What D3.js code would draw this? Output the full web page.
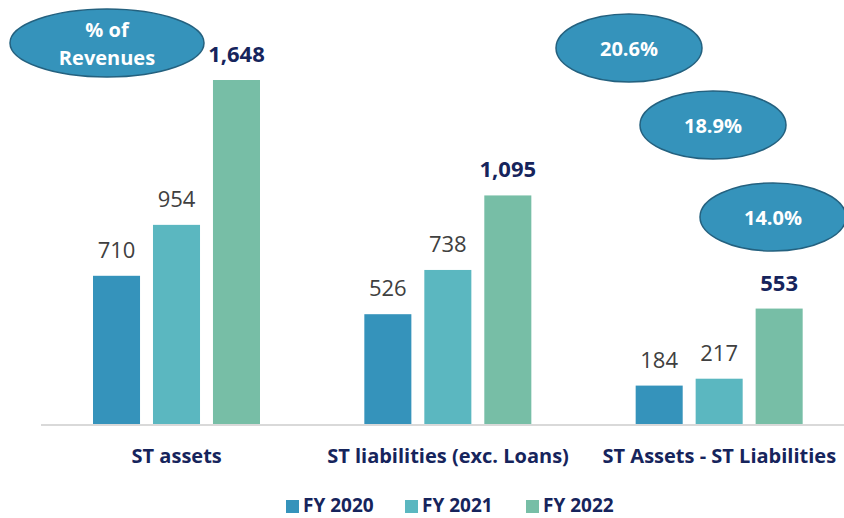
<!DOCTYPE html>
<html lang="en">
  <head>
    <meta charset="utf-8" />
    <script type="text/javascript" src="https://d3js.org/d3.v7.min.js"></script>
    <style>
      body { margin: 0; background: #fff; }
    </style>
  </head>

  <body>
    <script type="text/javascript">
      let w = 844;
      let h = 518;

      let categories = ["ST assets", "ST liabilities (exc. Loans)", "ST Assets - ST Liabilities"];
      let seriesNames = ["FY 2020", "FY 2021", "FY 2022"];
      let fy2020 = [710, 526, 184];
      let fy2021 = [954, 738, 217];
      let fy2022 = [1648, 1095, 553];
      let revenueShares = ["20.6%", "18.9%", "14.0%"];

      let colors = ["#3593bb", "#5bb7c0", "#77bea6"];
      let navy = "#16245c";
      let font = "'Open Sans', sans-serif";

      let series = [fy2020, fy2021, fy2022];

      let svg = d3
        .select("body")
        .append("svg")
        .attr("width", w)
        .attr("height", h);

      let x0 = d3.scaleBand().domain(categories).range([41, 855]).paddingInner(0).paddingOuter(0);
      let x1 = d3.scaleBand().domain(seriesNames).range([52, 219]).paddingInner(0.216).paddingOuter(0);
      let y = d3.scaleLinear().domain([0, 1648]).range([424, 80]);

      // bars
      let groups = svg
        .selectAll("g.grp")
        .data(categories)
        .join("g")
        .attr("class", "grp")
        .attr("transform", (d) => "translate(" + x0(d) + ",0)");

      groups.each(function (cat, ci) {
        let g = d3.select(this);
        seriesNames.forEach((s, si) => {
          let v = series[si][ci];
          g.append("rect")
            .attr("x", x1(s))
            .attr("y", y(v))
            .attr("width", x1.bandwidth())
            .attr("height", y(0) - y(v))
            .attr("fill", colors[si]);
          g.append("text")
            .text(d3.format(",")(v))
            .attr("x", x1(s) + x1.bandwidth() / 2)
            .attr("y", y(v) - 18)
            .attr("text-anchor", "middle")
            .attr("font-family", font)
            .attr("font-size", "22px")
            .attr("font-weight", si === 2 ? "bold" : "normal")
            .attr("fill", si === 2 ? navy : "#404040");
        });
      });

      // axis line
      svg.append("line")
        .attr("x1", 41).attr("x2", w)
        .attr("y1", 425).attr("y2", 425)
        .attr("stroke", "#d9d9d9")
        .attr("stroke-width", 2);

      // category labels
      svg.selectAll("text.cat")
        .data(categories)
        .join("text")
        .attr("class", "cat")
        .text((d) => d)
        .attr("x", (d) => x0(d) + x0.bandwidth() / 2)
        .attr("y", 463)
        .attr("text-anchor", "middle")
        .attr("font-family", font)
        .attr("font-size", "20px")
        .attr("font-weight", "bold")
        .attr("fill", navy);

      // legend
      let legendX = [286, 405, 526];
      seriesNames.forEach((s, i) => {
        svg.append("rect")
          .attr("x", legendX[i]).attr("y", 500)
          .attr("width", 13).attr("height", 13)
          .attr("fill", colors[i]);
        svg.append("text")
          .text(s)
          .attr("x", legendX[i] + 17)
          .attr("y", 512)
          .attr("font-family", font)
          .attr("font-size", "19px")
          .attr("font-weight", "bold")
          .attr("fill", navy);
      });

      // ellipses
      let ellipseStyle = (e) =>
        e.attr("fill", "#3593bb").attr("stroke", "#24617f").attr("stroke-width", 1.5);

      svg.append("ellipse")
        .attr("cx", 107).attr("cy", 43).attr("rx", 97).attr("ry", 34)
        .call(ellipseStyle);
      svg.append("text").text("% of")
        .attr("x", 107).attr("y", 37)
        .attr("text-anchor", "middle")
        .attr("font-family", font).attr("font-size", "20px")
        .attr("font-weight", "bold").attr("fill", "#fff");
      svg.append("text").text("Revenues")
        .attr("x", 107).attr("y", 65)
        .attr("text-anchor", "middle")
        .attr("font-family", font).attr("font-size", "20px")
        .attr("font-weight", "bold").attr("fill", "#fff");

      let bubbles = [
        { cx: 629, cy: 48 },
        { cx: 713, cy: 125 },
        { cx: 773, cy: 217 },
      ];
      bubbles.forEach((b, i) => {
        svg.append("ellipse")
          .attr("cx", b.cx).attr("cy", b.cy).attr("rx", 73).attr("ry", 34)
          .call(ellipseStyle);
        svg.append("text").text(revenueShares[i])
          .attr("x", b.cx).attr("y", b.cy + 8)
          .attr("text-anchor", "middle")
          .attr("font-family", font).attr("font-size", "20px")
          .attr("font-weight", "bold").attr("fill", "#fff");
      });
    </script>
  </body>
</html>
